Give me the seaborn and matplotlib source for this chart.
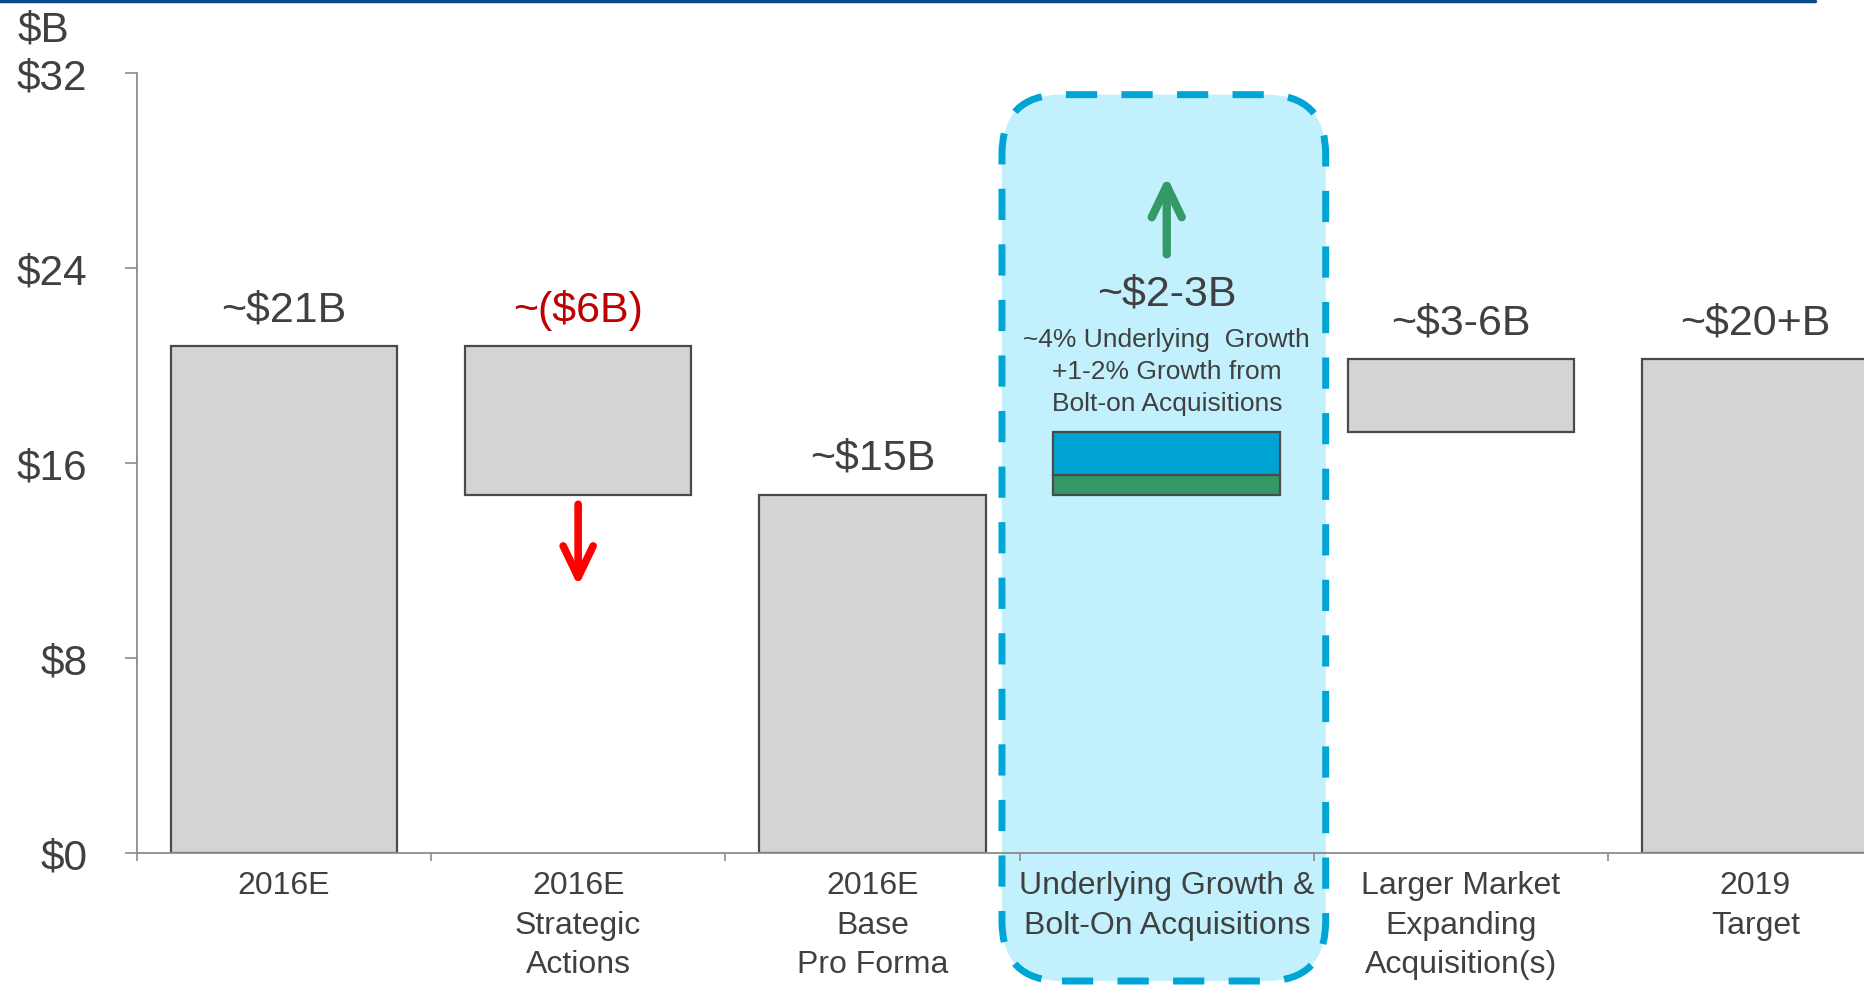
import matplotlib
matplotlib.use("Agg")
import matplotlib.pyplot as plt
import seaborn as sns
import pandas as pd
import numpy as np
from matplotlib.patches import FancyBboxPatch
from matplotlib.lines import Line2D

# ---------------- data ----------------
categories = ["2016E", "2016E\nStrategic\nActions", "2016E\nBase\nPro Forma",
              "Underlying Growth &\nBolt-On Acquisitions",
              "Larger Market\nExpanding\nAcquisition(s)", "2019\nTarget"]
gray_cats = ["2016E", "2016E\nStrategic\nActions", "2016E\nBase\nPro Forma",
             "Larger Market\nExpanding\nAcquisition(s)", "2019\nTarget"]
gray_bottom = [0.0, 14.7, 0.0, 17.25, 0.0]
gray_top = [20.8, 20.8, 14.7, 20.25, 20.25]
gray_labels = ["~$21B", "~($6B)", "~$15B", "~$3-6B", "~$20+B"]
growth_cat = "Underlying Growth &\nBolt-On Acquisitions"
bolt_on_bottom = 14.7
bolt_on_top = 15.5
underlying_top = 17.25
growth_label = "~$2-3B"
growth_note = "~4% Underlying  Growth\n+1-2% Growth from\nBolt-on Acquisitions"
yticks = [0, 8, 16, 24, 32]
ytick_labels = ["$0", "$8", "$16", "$24", "$32"]
unit_label = "$B"

# ---------------- style ----------------
sns.set_theme(style="white")
plt.rcParams['font.family'] = ['Liberation Sans', 'DejaVu Sans']
TXT = "#404040"
GRAY = "#D4D4D4"
EDGE = "#4A4A4A"
BLUE = "#00A4D4"
GREEN = "#339966"

W, H = 1864, 987
fig = plt.figure(figsize=(W / 100, H / 100), dpi=100)
x0_px, y0_px, ytop_px = 136.7, 854.0, 73.7
ax = fig.add_axes([x0_px / W, (H - y0_px) / H, 1 - x0_px / W, (y0_px - ytop_px) / H])
ax.patch.set_alpha(0)

df_gray = pd.DataFrame({"cat": gray_cats,
                        "height": np.subtract(gray_top, gray_bottom),
                        "bottom": gray_bottom})
sns.barplot(data=df_gray, x="cat", y="height", order=categories,
            bottom=df_gray["bottom"].values, color=GRAY, saturation=1,
            edgecolor=EDGE, linewidth=1.6, width=0.77, errorbar=None, ax=ax, zorder=2)
sns.barplot(x=[growth_cat], y=[bolt_on_top - bolt_on_bottom], order=categories,
            bottom=bolt_on_bottom, color=GREEN, saturation=1, edgecolor=EDGE,
            linewidth=1.6, width=0.77, errorbar=None, ax=ax, zorder=2)
sns.barplot(x=[growth_cat], y=[underlying_top - bolt_on_top], order=categories,
            bottom=bolt_on_top, color=BLUE, saturation=1, edgecolor=EDGE,
            linewidth=1.6, width=0.77, errorbar=None, ax=ax, zorder=2)

slot_px = 294.3
xmax = -0.5 + (W - x0_px) / slot_px
ymax = 32
ax.set_xlim(-0.5, xmax)
ax.set_ylim(0, ymax)
ax.set_xlabel("")
ax.set_ylabel("")
ax.set_axisbelow(False)

# value labels
for cat, top, lab in zip(gray_cats, gray_top, gray_labels):
    pos = categories.index(cat)
    col = "#C00000" if lab.startswith("~(") else TXT
    ax.text(pos, top + 1.5, lab, ha="center", va="center", fontsize=31, color=col, zorder=5)

gpos = categories.index(growth_cat)
ax.text(gpos, 22.95, growth_label, ha="center", va="center", fontsize=31, color=TXT, zorder=5)
ax.text(gpos, 19.75, growth_note, ha="center", va="center", fontsize=19, color=TXT,
        linespacing=1.42, zorder=5)

# arrows
ax.annotate("", xy=(1, 10.95), xytext=(1, 14.3),
            arrowprops=dict(arrowstyle="->,head_length=0.75,head_width=0.36", color="#FF0000",
                            lw=5.5, mutation_scale=30, shrinkA=0, shrinkB=0,
                            capstyle="round", joinstyle="round"), zorder=5)
ax.annotate("", xy=(gpos, 27.75), xytext=(gpos, 24.55),
            arrowprops=dict(arrowstyle="->,head_length=0.75,head_width=0.36", color=GREEN,
                            lw=6, mutation_scale=30, shrinkA=0, shrinkB=0,
                            capstyle="round", joinstyle="round"), zorder=5)

# axes styling
for s in ["top", "right"]:
    ax.spines[s].set_visible(False)
for s in ["left", "bottom"]:
    ax.spines[s].set_color("#8C8C8C")
    ax.spines[s].set_linewidth(1.3)
    ax.spines[s].set_zorder(4)

ax.set_yticks(yticks)
ax.set_yticklabels(ytick_labels, fontsize=30.5, color=TXT)
ax.tick_params(axis="y", which="major", direction="out", length=8.5, width=1.2,
               color="#8C8C8C", pad=27, left=True)

ax.set_xticks(range(len(categories)))
ax.set_xticklabels(categories, fontsize=23, color=TXT, linespacing=1.43)
ax.set_xticks(np.arange(-0.5, len(categories), 1.0), minor=True)
ax.tick_params(axis="x", which="major", length=0, pad=12)
ax.tick_params(axis="x", which="minor", direction="out", length=6, width=1.2,
               color="#8C8C8C", bottom=True)

# highlight box (data coordinates, rounding corrected for aspect)
ypx_per_unit = (y0_px - ytop_px) / ymax
aspect = slot_px / ypx_per_unit
box_y0, box_y1 = -5.25, 31.1
box = FancyBboxPatch((gpos - 0.56, box_y0), 1.1, box_y1 - box_y0,
                     boxstyle="round,pad=0,rounding_size=%f" % (60 / slot_px),
                     mutation_aspect=aspect,
                     facecolor="#C2F0FC", edgecolor="#00A5D6", lw=5,
                     linestyle=(0, (4.5, 3.5)), clip_on=False, zorder=1)
ax.add_patch(box)
ax.set_xlim(-0.5, xmax)
ax.set_ylim(0, ymax)

# unit label & top rule
fig.text(18 / W, 1 - 31 / H, unit_label, fontsize=30.5, color=TXT, ha="left", va="center")
fig.add_artist(Line2D([0, 1815 / W], [1 - 1.5 / H, 1 - 1.5 / H], transform=fig.transFigure,
                      color="#0D4A8A", lw=2.5))

fig.savefig("out.png", dpi=100)
